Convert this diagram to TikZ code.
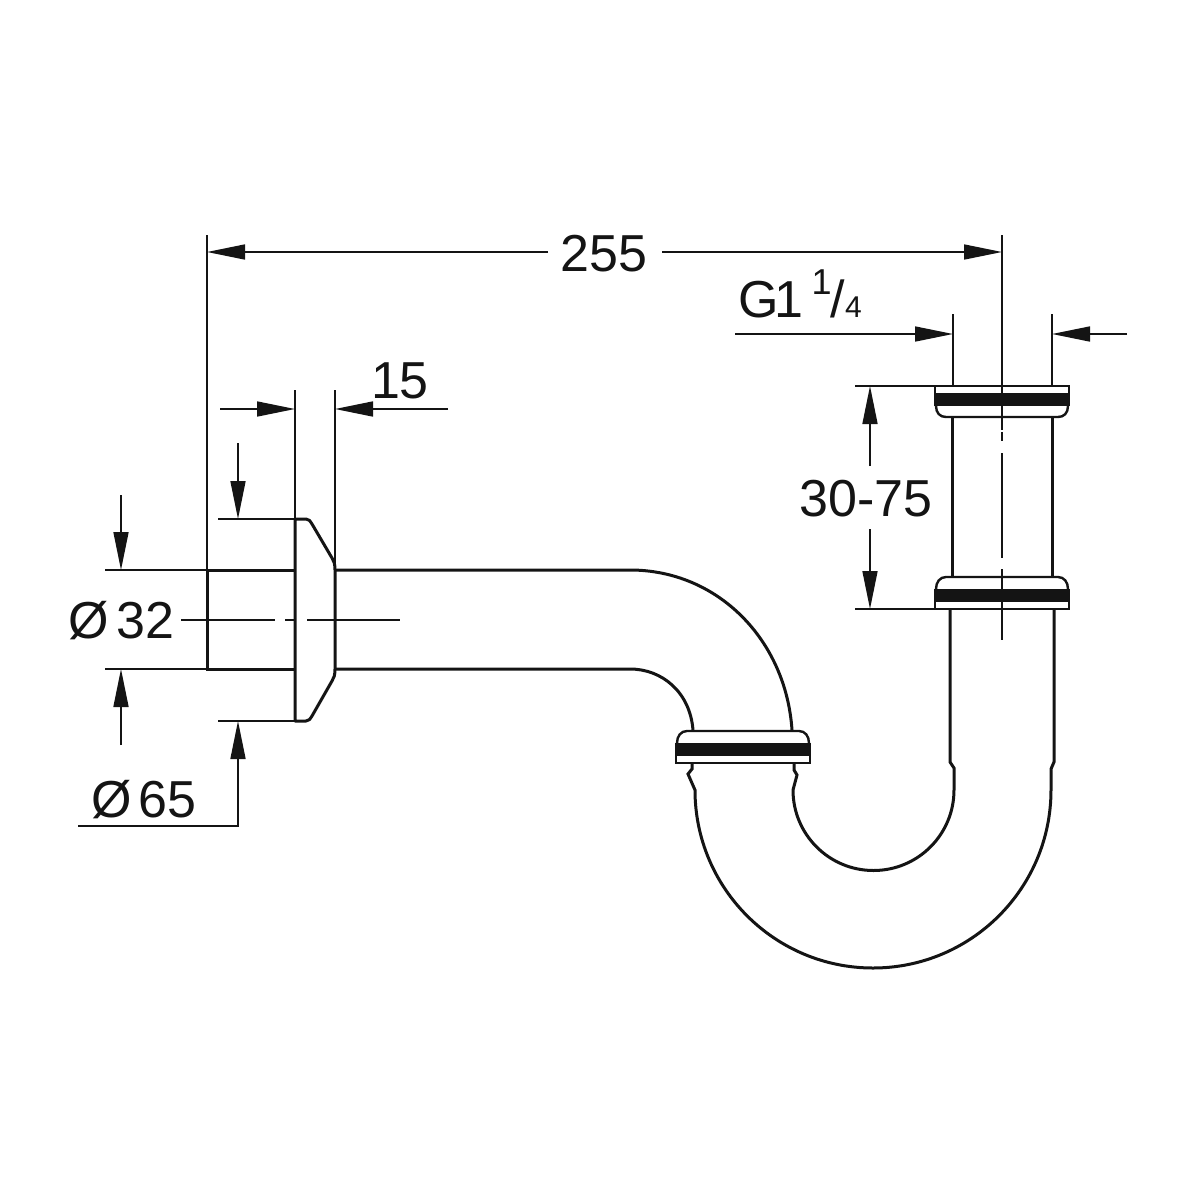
\documentclass[tikz,border=0pt]{standalone}
\usepackage{fontspec}
\setmainfont{Liberation Sans}
\usetikzlibrary{arrows.meta}
\definecolor{inkcolor}{HTML}{141414}
\newcommand{\dimfont}{\fontsize{52}{54}\selectfont}
\newcommand{\fracfont}[1]{\fontsize{#1}{#1}\selectfont}
\tikzset{
  thinline/.style={inkcolor, line width=1.6pt},
  thickline/.style={inkcolor, line width=3pt},
  ringline/.style={inkcolor, line width=2.4pt},
  dimarrow/.style={thinline, -{Triangle[length=38pt, width=15pt]}},
  dimlabel/.style={inkcolor, font=\dimfont, inner sep=0pt}
}
\begin{document}
\begin{tikzpicture}[x=1pt, y=-1pt]
  \useasboundingbox (0,0) rectangle (1200,1200);
  \fill[white] (0,0) rectangle (1200,1200);

  % === WALL FLANGE ===
  \draw[thickline] (295,570) -- (207,570) -- (207,669) -- (295,669);
  \draw[thickline, line join=round] (295,519) -- (306,519) .. controls (309,519) and (310,521) .. (312,524)
    -- (332,558) .. controls (334,561) and (335,564) .. (335,570) -- (335,669)
    .. controls (335,675) and (334,678) .. (332,681) -- (312,716)
    .. controls (310,719) and (309,721) .. (306,721) -- (295,721) -- cycle;

  % === TUBE AND BEND ===
  \draw[thickline] (335,570) -- (630,570) .. controls (718,570) and (786,640) .. (792,730);
  \draw[thickline] (335,669) -- (630,669) .. controls (662,669) and (690,692) .. (693,730);
  \draw[thickline] (692,763) -- (692,769) -- (688,774) -- (695,790)
    arc[start angle=180, end angle=0, radius=178] -- (1051,769) -- (1054,762) -- (1054,609);
  \draw[thickline] (794,763) -- (794,770) -- (797,775) -- (793,790)
    arc[start angle=180, end angle=0, radius=80.5] -- (954,768) -- (950,762) -- (950,609);
  \draw[thickline] (952,417) -- (952,577);
  \draw[thickline] (1052,417) -- (1052,577);

  % === RINGS ===
  \foreach \cx/\ry in {1002/386} {
    \draw[ringline] (\cx-67,\ry+7) -- (\cx-67,\ry) -- (\cx+67,\ry) -- (\cx+67,\ry+7);
    \fill[inkcolor] (\cx-68,\ry+7) rectangle (\cx+68,\ry+20);
    \draw[ringline] (\cx-66,\ry+20) .. controls (\cx-66,\ry+27) and (\cx-62,\ry+31) .. (\cx-56,\ry+31)
      -- (\cx+56,\ry+31) .. controls (\cx+62,\ry+31) and (\cx+66,\ry+27) .. (\cx+66,\ry+20);
  }
  \foreach \cx/\ry in {1002/609, 743/763} {
    \draw[ringline] (\cx-67,\ry-7) -- (\cx-67,\ry) -- (\cx+67,\ry) -- (\cx+67,\ry-7);
    \fill[inkcolor] (\cx-68,\ry-7) rectangle (\cx+68,\ry-20);
    \draw[ringline] (\cx-66,\ry-20) .. controls (\cx-66,\ry-27) and (\cx-62,\ry-32) .. (\cx-56,\ry-32)
      -- (\cx+56,\ry-32) .. controls (\cx+62,\ry-32) and (\cx+66,\ry-27) .. (\cx+66,\ry-20);
  }

  % === CENTRE LINES ===
  \draw[thinline] (181,620) -- (275,620);
  \draw[thinline] (285,620) -- (296,620);
  \draw[thinline] (307,620) -- (400,620);
  \draw[thinline] (1002,235) -- (1002,430);
  \draw[thinline] (1002,432) -- (1002,441);
  \draw[thinline] (1002,453) -- (1002,558);
  \draw[thinline] (1002,569) -- (1002,640);

  % === DIMENSION 255 ===
  \draw[thinline] (207,235) -- (207,570);
  \draw[dimarrow] (548,252) -- (207,252);
  \draw[dimarrow] (662,252) -- (1002,252);
  \node[dimlabel, anchor=base] (lengthlabel) at (604,271) {255};

  % === DIMENSION G1 1/4 ===
  \draw[thinline] (953,314) -- (953,386);
  \draw[thinline] (1052,314) -- (1052,386);
  \draw[dimarrow] (735,334) -- (953,334);
  \draw[dimarrow] (1127,334) -- (1052,334);
  \node[dimlabel, anchor=base west] (threadlabel) at (738,317)
    {G\kern-4pt 1\kern8pt\raisebox{23pt}{\fracfont{36}1}\kern-1pt/\fracfont{30}4};

  % === DIMENSION 30-75 ===
  \draw[thinline] (855,386) -- (935,386);
  \draw[thinline] (855,609) -- (935,609);
  \draw[dimarrow] (870,466) -- (870,386);
  \draw[dimarrow] (870,529) -- (870,609);
  \node[dimlabel, anchor=base] (heightlabel) at (866,516) {30-75};

  % === DIMENSION 15 ===
  \draw[thinline] (295,390) -- (295,519);
  \draw[thinline] (335,390) -- (335,566);
  \draw[dimarrow] (220,409) -- (295,409);
  \draw[dimarrow] (448,409) -- (335,409);
  \node[dimlabel, anchor=base] (flangelabel) at (400,398) {15};

  % === DIAMETER 32 ===
  \draw[thinline] (105,570) -- (207,570);
  \draw[thinline] (105,669) -- (207,669);
  \draw[dimarrow] (121,495) -- (121,570);
  \draw[dimarrow] (121,745) -- (121,669);
  \node[dimlabel, anchor=base west] (borelabel) at (68,638) {Ø\kern8pt32};

  % === DIAMETER 65 ===
  \draw[thinline] (218,519) -- (295,519);
  \draw[thinline] (218,721) -- (295,721);
  \draw[dimarrow] (238,443) -- (238,519);
  \draw[dimarrow] (78,826) -- (238,826) -- (238,721);
  \node[dimlabel, anchor=base west] (rosettelabel) at (91,817) {Ø\kern7pt65};
\end{tikzpicture}
\end{document}
